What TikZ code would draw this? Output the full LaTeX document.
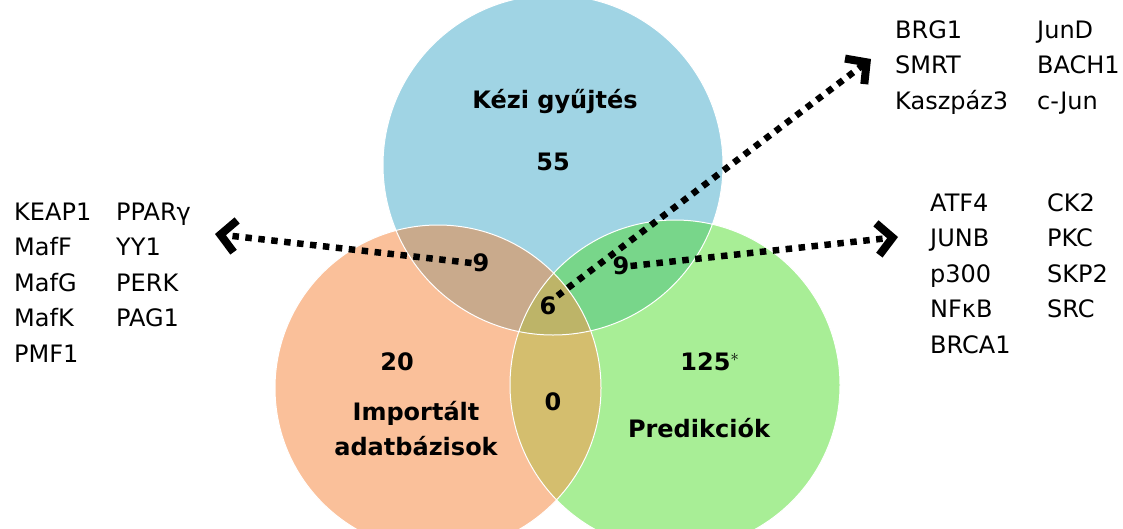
\documentclass[tikz,border=0pt]{standalone}
\usepackage{fontspec}
\setmainfont{DejaVu Sans}
\usetikzlibrary{arrows.meta,positioning}

\definecolor{kezi}{RGB}{160,212,228}
\definecolor{import}{RGB}{250,192,154}
\definecolor{pred}{RGB}{168,238,150}
\definecolor{kezimport}{RGB}{201,170,140}
\definecolor{kezipred}{RGB}{120,214,138}
\definecolor{importpred}{RGB}{212,190,110}
\definecolor{mind}{RGB}{189,180,104}

\begin{document}
\begin{tikzpicture}[x=1pt,y=-1pt,
    gene/.style={anchor=base west, font=\fontsize{24}{28}\selectfont, inner sep=0pt},
    cnt/.style={font=\bfseries\fontsize{24}{28}\selectfont, inner sep=1pt},
    setname/.style={font=\bfseries\fontsize{24}{35}\selectfont, align=center},
    pointer/.style={line width=6.5pt, dash pattern=on 6.5pt off 6.5pt, line join=miter,
        -{Straight Barb[length=15pt,width=32pt,line width=8pt]}}]
    \useasboundingbox (0,0) rectangle (1123,528);

    % halmazok
    \fill[kezi] (553,165) circle[radius=170pt];
    \fill[import] (438,388) circle[radius=163pt];
    \fill[pred] (675,385) circle[radius=165pt];
    \begin{scope}
        \clip (553,165) circle[radius=170pt];
        \fill[kezimport] (438,388) circle[radius=163pt];
        \fill[kezipred] (675,385) circle[radius=165pt];
    \end{scope}
    \begin{scope}
        \clip (438,388) circle[radius=163pt];
        \fill[importpred] (675,385) circle[radius=165pt];
        \clip (675,385) circle[radius=165pt];
        \fill[mind] (553,165) circle[radius=170pt];
    \end{scope}
    \draw[white, line width=1pt] (553,165) circle[radius=170pt]
        (438,388) circle[radius=163pt] (675,385) circle[radius=165pt];

    % feliratok
    \node[setname] (kezi) at (555,101) {Kézi gyűjtés};
    \node[setname] (import) at (416,429) {Importált\\adatbázisok};
    \node[setname] (pred) at (699,428) {Predikciók};

    \node[cnt] (n55) at (553,162) {55};
    \node[cnt] (n9a) at (481,263) {9};
    \node[cnt] (n9b) at (621,266) {9};
    \node[cnt] (n6) at (548,306) {6};
    \node[cnt] (n20) at (397,362) {20};
    \node[cnt] (n0) at (553,402) {0};
    \node[cnt] (n125) at (710,362) {125$^{*}$};

    % listak
    \foreach \t [count=\i] in {KEAP1,MafF,MafG,MafK,PMF1}
        \node[gene] (bal\i) at (14,220+35.5*\i-35.5) {\t};
    \foreach \t [count=\i] in {PPARγ,YY1,PERK,PAG1}
        \node[gene] (balb\i) at (116,220+35.5*\i-35.5) {\t};
    \foreach \t [count=\i] in {BRG1,SMRT,Kaszpáz3}
        \node[gene] (fent\i) at (895,38+35.5*\i-35.5) {\t};
    \foreach \t [count=\i] in {JunD,BACH1,c-Jun}
        \node[gene] (fentb\i) at (1037,38+35.5*\i-35.5) {\t};
    \foreach \t [count=\i] in {ATF4,JUNB,p300,NFκB,BRCA1}
        \node[gene] (jobb\i) at (930,211+35.5*\i-35.5) {\t};
    \foreach \t [count=\i] in {CK2,PKC,SKP2,SRC}
        \node[gene] (jobbb\i) at (1047,211+35.5*\i-35.5) {\t};

    % nyilak
    \coordinate (balveg) at (215,234);
    \coordinate (jobbveg) at (898,237);
    \coordinate (fentveg) at (871,59);
    \draw[pointer] (n9a.west) -- (balveg);
    \draw[pointer] (n9b.east) -- (jobbveg);
    \draw[pointer] (n6.north east) -- (fentveg);
\end{tikzpicture}
\end{document}
